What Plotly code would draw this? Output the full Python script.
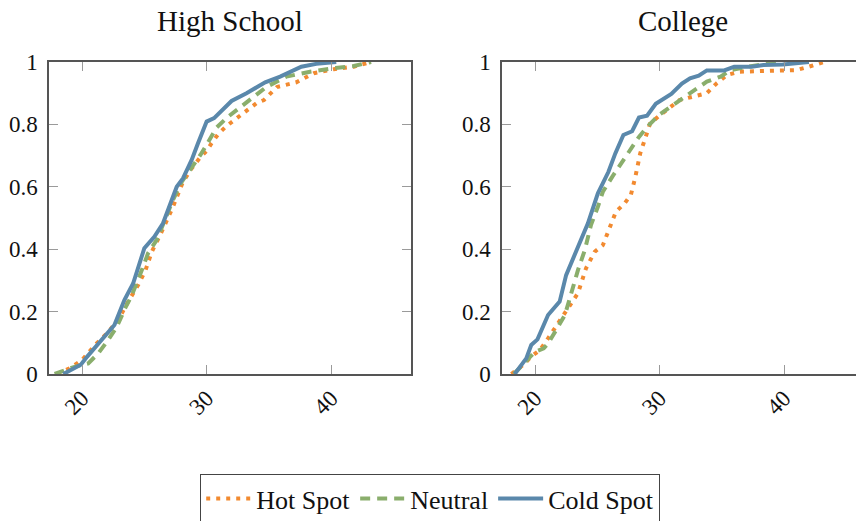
import plotly.graph_objects as go

# ---------------- data ----------------
panel_titles = ["High School", "College"]
series_names = ["Hot Spot", "Neutral", "Cold Spot"]
x_ticks = [20, 30, 40]
y_ticks = [0, 0.2, 0.4, 0.6, 0.8, 1]
y_tick_labels = ["0", "0.2", "0.4", "0.6", "0.8", "1"]

hs_hot_x = [18.0, 19.0, 20.0, 21.05, 22.0, 22.9, 23.7, 24.5, 25.1, 25.6, 26.3, 27.3, 28.1, 28.8, 29.5,
            30.0, 30.4, 30.95, 31.6, 32.9, 34.0, 34.6, 35.65, 37.2, 38.6, 40.2, 41.8, 43.2]
hs_hot_y = [0, 0.018, 0.045, 0.093, 0.13, 0.173, 0.232, 0.285, 0.333, 0.392, 0.448, 0.536, 0.616, 0.659, 0.695,
            0.715, 0.74, 0.77, 0.795, 0.835, 0.868, 0.878, 0.92, 0.935, 0.964, 0.977, 0.985, 1.0]

hs_neu_x = [17.8, 19.4, 20.5, 21.3, 22.1, 22.8, 23.45, 24.0, 24.8, 25.3, 26.0, 27.3, 28.0, 28.7, 29.5,
            30.15, 30.8, 31.7, 32.6, 33.35, 34.8, 36.4, 38.3, 40.2, 41.8, 43.2]
hs_neu_y = [0, 0.023, 0.034, 0.066, 0.109, 0.152, 0.21, 0.253, 0.333, 0.387, 0.43, 0.558, 0.616, 0.654, 0.702,
            0.745, 0.79, 0.824, 0.852, 0.878, 0.92, 0.953, 0.969, 0.98, 0.987, 1.0]

hs_cold_x = [18.5, 19.7, 19.9, 20.4, 21.3, 22.6, 23.4, 24.1, 25.0, 25.8, 26.5, 27.6, 28.1, 28.8, 29.3,
             30.0, 30.6, 32.0, 33.2, 34.7, 35.9, 36.7, 37.6, 38.8, 40.4]
hs_cold_y = [0, 0.027, 0.03, 0.055, 0.098, 0.157, 0.237, 0.29, 0.403, 0.44, 0.483, 0.6, 0.627, 0.686, 0.739,
             0.809, 0.82, 0.875, 0.9, 0.935, 0.953, 0.967, 0.985, 0.994, 1.0]

co_hot_x = [18.1, 19.05, 19.7, 20.4, 21.05, 21.7, 22.25, 22.8, 23.45, 24.1, 24.8, 25.45, 26.0, 26.5, 27.2,
            27.7, 28.05, 28.45, 28.85, 29.25, 30.05, 30.98, 31.6, 32.7, 33.8, 34.6, 35.4, 36.45, 38.1,
            39.7, 41.0, 42.0, 43.2]
co_hot_y = [0, 0.029, 0.056, 0.077, 0.114, 0.152, 0.184, 0.221, 0.259, 0.339, 0.392, 0.413, 0.472, 0.52, 0.547,
            0.574, 0.63, 0.707, 0.755, 0.803, 0.83, 0.857, 0.878, 0.889, 0.9, 0.932, 0.958, 0.969, 0.971,
            0.974, 0.974, 0.985, 1.0]

co_neu_x = [18.3, 19.2, 20.0, 20.7, 21.05, 21.7, 22.4, 22.8, 23.45, 24.0, 24.5, 25.05, 25.45, 26.2, 27.0,
            27.7, 28.35, 29.15, 29.95, 30.9, 31.7, 32.8, 33.8, 34.9, 35.7, 37.1, 38.9, 39.6]
co_neu_y = [0, 0.04, 0.071, 0.082, 0.098, 0.141, 0.189, 0.243, 0.333, 0.397, 0.478, 0.536, 0.584, 0.632, 0.68,
            0.718, 0.76, 0.798, 0.83, 0.857, 0.878, 0.91, 0.937, 0.953, 0.974, 0.985, 0.998, 1.0]

co_cold_x = [18.37, 19.3, 19.7, 20.2, 21.05, 21.98, 22.5, 23.45, 24.25, 25.05, 25.45, 25.9, 26.45, 27.1,
             27.8, 28.35, 29.0, 29.7, 30.95, 31.8, 32.45, 33.15, 33.8, 35.2, 36.0, 37.4, 38.35, 39.9, 42.0]
co_cold_y = [0, 0.05, 0.093, 0.111, 0.189, 0.232, 0.317, 0.408, 0.483, 0.579, 0.615, 0.648, 0.707, 0.766,
             0.778, 0.822, 0.828, 0.866, 0.898, 0.931, 0.948, 0.956, 0.973, 0.973, 0.985, 0.985, 0.99, 0.992, 1.0]

# ---------------- style ----------------
W, H = 856, 521
FONT = "Liberation Serif, Times New Roman, serif"
colors = {"Hot Spot": "#f28a30", "Neutral": "#8aae6c", "Cold Spot": "#5a88ab"}
dashes = {"Hot Spot": "4px,6px", "Neutral": "10px,7px", "Cold Spot": "solid"}


def px(v):
    return v / W


def py(v):
    return 1 - v / H


fig = go.Figure()

panels = [
    ("x", "y", [(hs_hot_x, hs_hot_y), (hs_neu_x, hs_neu_y), (hs_cold_x, hs_cold_y)]),
    ("x2", "y2", [(co_hot_x, co_hot_y), (co_neu_x, co_neu_y), (co_cold_x, co_cold_y)]),
]
for pi, (xa, ya, data) in enumerate(panels):
    for name, (xs, ys) in zip(series_names, data):
        fig.add_trace(go.Scatter(
            x=xs, y=ys, mode="lines", name=name, xaxis=xa, yaxis=ya,
            showlegend=(pi == 0),
            line=dict(color=colors[name], width=4, dash=dashes[name]),
        ))

axis_common = dict(
    showgrid=False, zeroline=False, showline=True, linecolor="#555555", linewidth=1.5,
    ticks="inside", ticklen=9, tickcolor="#9a9a9a", tickwidth=1.2,
    tickfont=dict(family=FONT, size=23, color="#111111"),
    automargin=False,
)

ydom = [py(374), py(62)]
fig.update_layout(
    width=W, height=H,
    margin=dict(l=0, r=0, t=0, b=0, autoexpand=False),
    paper_bgcolor="white", plot_bgcolor="white",
    font=dict(family=FONT, color="#111111"),
    xaxis=dict(domain=[px(49), px(411)], range=[17.35, 46.4], anchor="y",
               tickvals=x_ticks, tickangle=-45, mirror="ticks", **axis_common),
    yaxis=dict(domain=ydom, range=[0, 1], anchor="x",
               tickvals=y_ticks, ticktext=y_tick_labels, mirror="ticks",
               ticklabelstandoff=5, **axis_common),
    xaxis2=dict(domain=[px(502), 1.0], range=[17.35, 45.78], anchor="y2",
                tickvals=x_ticks, tickangle=-45, mirror="ticks", **axis_common),
    yaxis2=dict(domain=ydom, range=[0, 1], anchor="x2",
                tickvals=y_ticks, ticktext=y_tick_labels, mirror=False,
                ticklabelstandoff=5, **axis_common),
    legend=dict(
        orientation="h", x=px(430), xanchor="center", y=py(474), yanchor="top",
        bordercolor="#444444", borderwidth=1.2, bgcolor="white",
        font=dict(family=FONT, size=26, color="#111111"),
        itemwidth=45, tracegroupgap=0,
    ),
    annotations=[
        dict(text=panel_titles[0], x=px(230), y=py(21), xref="paper", yref="paper",
             xanchor="center", yanchor="middle", showarrow=False,
             font=dict(family=FONT, size=29, color="#111111")),
        dict(text=panel_titles[1], x=px(683), y=py(21), xref="paper", yref="paper",
             xanchor="center", yanchor="middle", showarrow=False,
             font=dict(family=FONT, size=29, color="#111111")),
    ],
)

fig.write_html("out.html", config={"displayModeBar": False},
               post_script="document.body.style.margin='0px';")
